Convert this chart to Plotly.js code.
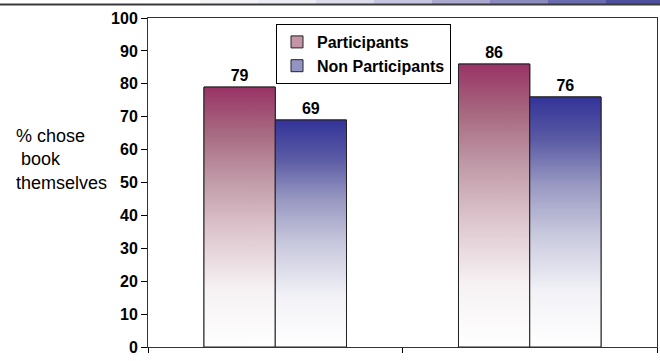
<!DOCTYPE html>
<html>
<head>
<meta charset="utf-8">
<script src="https://cdn.plot.ly/plotly-3.0.1.min.js"></script>
<style>html,body{margin:0;padding:0;background:#fff;}#chart{width:660px;height:361px;}</style>
</head>
<body>
<div id="chart"></div>
<script>
// ---- data ----
const categories = [0, 1];                 // two groups (no visible labels)
const seriesNames = ["Participants", "Non Participants"];
const participants = [79, 86];
const nonParticipants = [69, 76];
const yTicks = [0, 10, 20, 30, 40, 50, 60, 70, 80, 90, 100];
const yTitle = "% chose<br>&nbsp;book<br>themselves";

// ---- styling ----
const swatchColors = ["#c495a6", "#9494c4"];
const scales = [
  [[0, "#ffffff"], [0.22, "#f6f2f4"], [0.45, "#ddc5cd"], [0.65, "#bf98a6"], [0.83, "#a6687f"], [1, "#993366"]],
  [[0, "#ffffff"], [0.22, "#f2f2f7"], [0.45, "#c9c9de"], [0.65, "#9898c2"], [0.83, "#5a5aa4"], [1, "#333399"]]
];
const bargap = 0.44;
const barW = (1 - bargap) / 2;
const values = [participants, nonParticipants];

const traces = [];
// bar traces (legend swatches + data labels); gradient fill drawn on top
values.forEach((vals, s) => {
  traces.push({
    type: "bar", x: categories, y: vals, name: seriesNames[s],
    marker: {color: swatchColors[s], line: {width: 1, color: "#222"}},
    text: vals.map(String), textposition: "outside", cliponaxis: false,
    textfont: {family: "Arial, Liberation Sans", size: 16, color: "#000", weight: "bold"},
    showlegend: true, hoverinfo: "skip"
  });
});
// gradient fills for each bar, positioned on the same scale as the bars
values.forEach((vals, s) => {
  vals.forEach((v, i) => {
    const x0 = categories[i] - barW + s * barW;
    const x1 = x0 + barW;
    traces.push({
      type: "scatter", mode: "lines", name: seriesNames[s],
      x: [x0, x0, x1, x1, x0], y: [0, v, v, 0, 0],
      fill: "toself",
      fillgradient: {type: "vertical", colorscale: scales[s]},
      line: {color: "#222", width: 1},
      showlegend: false, hoverinfo: "skip"
    });
  });
});

// header decoration (slide top band)
const pxX = px => (px - 148) / 509;
const pxY = py => (347 - py) / 329;
const shapes = [];
const bandCols = ["#f4f4f6", "#ececf3", "#dcdcec", "#c6c6e0", "#a9a9d0", "#8a8abf", "#6a6aae", "#4e4e9e"];
bandCols.forEach((c, k) => {
  shapes.push({type: "rect", xref: "paper", yref: "paper",
    x0: pxX(200 + k * 58), x1: pxX(200 + (k + 1) * 58 + 1), y0: pxY(4), y1: pxY(-1),
    fillcolor: c, line: {width: 0}, layer: "above"});
});
shapes.push({type: "line", xref: "paper", yref: "paper", x0: pxX(-2), x1: pxX(662), y0: pxY(4.5), y1: pxY(4.5),
  line: {color: "#3a3a3a", width: 2}, layer: "above"});

const layout = {
  width: 660, height: 361,
  margin: {l: 148, r: 3, t: 18, b: 14, pad: 0},
  paper_bgcolor: "#fff", plot_bgcolor: "#fff",
  barmode: "group", bargap: bargap, bargroupgap: 0,
  font: {family: "Arial, Liberation Sans, sans-serif", color: "#000"},
  xaxis: {type: "linear", range: [-0.5, 1.5], tickvals: [-0.5, 0.5, 1.5], showticklabels: false,
    ticks: "outside", ticklen: 5, tickcolor: "#000", showgrid: false, zeroline: false,
    showline: true, linecolor: "#333", linewidth: 1, mirror: true, fixedrange: true},
  yaxis: {range: [0, 100], tickvals: yTicks, ticks: "outside", ticklen: 6, tickcolor: "#000",
    tickfont: {size: 16, weight: "bold", family: "Arial, Liberation Sans"},
    showgrid: false, zeroline: false, showline: true, linecolor: "#333", linewidth: 1, mirror: true, fixedrange: true},
  legend: {x: pxX(276), y: pxY(24), xanchor: "left", yanchor: "top",
    bgcolor: "#fff", bordercolor: "#000", borderwidth: 1,
    font: {size: 16, weight: "bold", family: "Arial, Liberation Sans"},
    itemwidth: 30, tracegroupgap: 0, traceorder: "normal"},
  annotations: [{xref: "paper", yref: "paper", x: pxX(14), y: pxY(159), xanchor: "left", yanchor: "middle",
    text: yTitle, showarrow: false, align: "left", font: {size: 18, family: "Arial, Liberation Sans"}}],
  shapes: shapes,
  showlegend: true
};
Plotly.newPlot("chart", traces, layout, {staticPlot: true, displayModeBar: false});
</script>
</body>
</html>
